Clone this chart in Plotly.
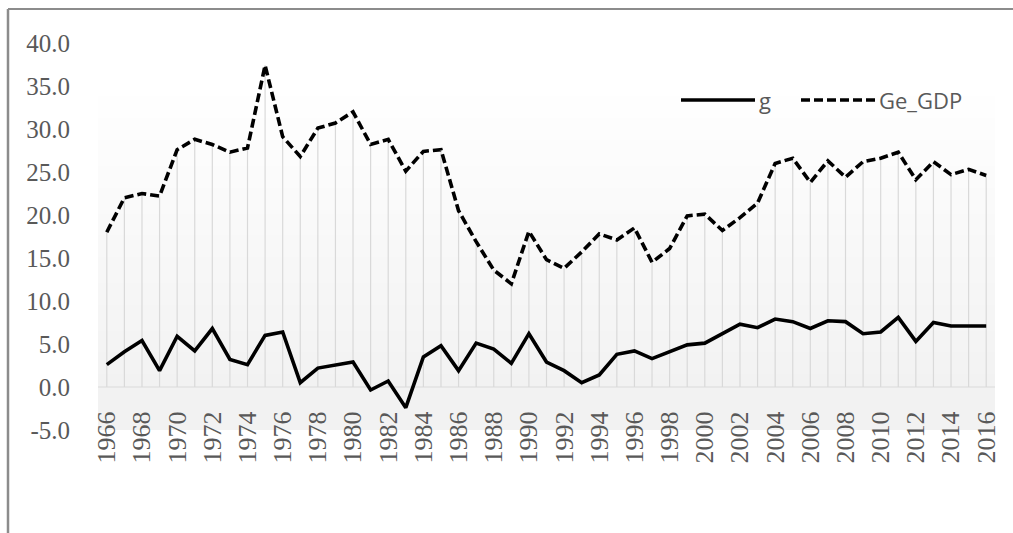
import numpy as np
import plotly.graph_objects as go

years = list(range(1966, 2017))

g = [2.6, 4.1, 5.4, 1.9, 5.9, 4.2, 6.8, 3.2, 2.6, 6.0,
     6.4, 0.5, 2.2, 2.5, 2.9, -0.35, 0.7, -2.4, 3.5, 4.8,
     1.9, 5.1, 4.4, 2.75, 6.2, 2.9, 1.9, 0.5, 1.4, 3.8,
     4.2, 3.3, 4.1, 4.9, 5.1, 6.2, 7.3, 6.9, 7.9, 7.6,
     6.8, 7.7, 7.6, 6.2, 6.4, 8.1, 5.3, 7.5, 7.1, 7.1,
     7.1]

ge_gdp = [18.0, 22.0, 22.5, 22.2, 27.6, 28.8, 28.2, 27.3, 27.8, 37.4,
          29.1, 26.8, 30.1, 30.7, 32.0, 28.2, 28.8, 25.1, 27.4, 27.6,
          20.5, 16.9, 13.6, 12.0, 18.1, 14.8, 13.8, 15.7, 17.8, 17.1,
          18.5, 14.5, 16.1, 19.9, 20.1, 18.2, 19.7, 21.4, 26.0, 26.6,
          23.8, 26.3, 24.4, 26.2, 26.6, 27.3, 24.1, 26.2, 24.7, 25.3,
          24.6]

series_names = ["g", "Ge_GDP"]
ytick_vals = [-5, 0, 5, 10, 15, 20, 25, 30, 35, 40]
ytick_text = ["%.1f" % v for v in ytick_vals]
xtick_vals = list(range(1966, 2017, 2))

Y_MIN, Y_MAX = -5, 40
GRAD_TOP = 35.3
X_MIN, X_MAX = 1965.5, 2016.5

fig = go.Figure()

# plot-area gradient background (white at top -> light gray at bottom)
n_rows = 80
y_edges = np.linspace(Y_MIN, GRAD_TOP, n_rows + 1)
y_cent = (y_edges[:-1] + y_edges[1:]) / 2
z = [[v] for v in y_cent]
frac0 = (0 - Y_MIN) / (GRAD_TOP - Y_MIN)
fig.add_trace(go.Heatmap(
    x=[X_MIN, X_MAX], y=y_edges, z=z, zmin=Y_MIN, zmax=GRAD_TOP,
    colorscale=[[0, "#f2f2f2"], [frac0, "#f2f2f2"], [1, "#ffffff"]],
    showscale=False, hoverinfo="skip", zsmooth=False))

# category axis line at zero
fig.add_trace(go.Scatter(x=[X_MIN, X_MAX], y=[0, 0], mode="lines",
                         line=dict(color="#d9d9d9", width=1.2),
                         hoverinfo="skip", showlegend=False))

# drop lines from the highest point to the axis
drop_x, drop_y = [], []
for yr, a, b in zip(years, g, ge_gdp):
    drop_x += [yr, yr, None]
    drop_y += [max(a, b), 0, None]
fig.add_trace(go.Scatter(x=drop_x, y=drop_y, mode="lines",
                         line=dict(color="#d9d9d9", width=1.2),
                         hoverinfo="skip", showlegend=False))

LW = 3.6
DASH = "9px,4px"
fig.add_trace(go.Scatter(x=years, y=g, name=series_names[0], mode="lines",
                         line=dict(color="#000000", width=LW),
                         showlegend=False))
fig.add_trace(go.Scatter(x=years, y=ge_gdp, name=series_names[1], mode="lines",
                         line=dict(color="#000000", width=LW, dash=DASH),
                         showlegend=False))

# manual legend (long line samples as in the original)
L, T, B = 98, 43, 430
W_PLOT, H_PLOT = 1013 - 98 - 18, 430 - 43


def px_x(px):
    return (px - L) / W_PLOT


def px_y(py):
    return (B - py) / H_PLOT


leg_y = px_y(100)
fig.add_shape(type="line", xref="paper", yref="paper",
              x0=px_x(681), x1=px_x(755), y0=leg_y, y1=leg_y,
              line=dict(color="#000000", width=LW))
fig.add_shape(type="line", xref="paper", yref="paper",
              x0=px_x(801), x1=px_x(875), y0=leg_y, y1=leg_y,
              line=dict(color="#000000", width=LW, dash=DASH))
fig.add_annotation(xref="paper", yref="paper", x=px_x(757), y=leg_y,
                   text=series_names[0], showarrow=False, xanchor="left",
                   yanchor="middle",
                   font=dict(family="Open Sans", size=22, color="#595959"))
fig.add_annotation(xref="paper", yref="paper", x=px_x(877), y=leg_y,
                   text=series_names[1], showarrow=False, xanchor="left",
                   yanchor="middle",
                   font=dict(family="Open Sans", size=22, color="#595959"))

# outer frame lines (top and left)
fig.add_shape(type="line", xref="paper", yref="paper",
              x0=px_x(8), x1=px_x(1013), y0=px_y(9), y1=px_y(9),
              line=dict(color="#8c8c8c", width=2))
fig.add_shape(type="line", xref="paper", yref="paper",
              x0=px_x(8), x1=px_x(8), y0=px_y(9), y1=px_y(533),
              line=dict(color="#8c8c8c", width=2.5))

fig.update_layout(
    width=1013, height=533,
    margin=dict(l=L, r=18, t=T, b=533 - B, pad=0),
    paper_bgcolor="#ffffff", plot_bgcolor="#ffffff",
    showlegend=False,
    xaxis=dict(range=[X_MIN, X_MAX], tickvals=xtick_vals,
               ticktext=[str(v) for v in xtick_vals],
               tickangle=-90, showgrid=False, zeroline=False, showline=False,
               ticks="outside", ticklen=13, tickcolor="rgba(0,0,0,0)",
               anchor="free",
               position=(0 - Y_MIN) / (Y_MAX - Y_MIN),
               automargin=False,
               tickfont=dict(family="Liberation Serif", size=26, color="#595959")),
    yaxis=dict(range=[Y_MIN, Y_MAX], tickvals=ytick_vals, ticktext=ytick_text,
               showgrid=False, zeroline=False, showline=False,
               ticks="outside", ticklen=22, tickcolor="rgba(0,0,0,0)",
               automargin=False,
               tickfont=dict(family="Liberation Serif", size=25, color="#595959")),
)

fig.write_html("out.html",
               config={"displayModeBar": False},
               post_script="document.body.style.margin='0';"
                           "document.body.style.overflow='hidden';")
